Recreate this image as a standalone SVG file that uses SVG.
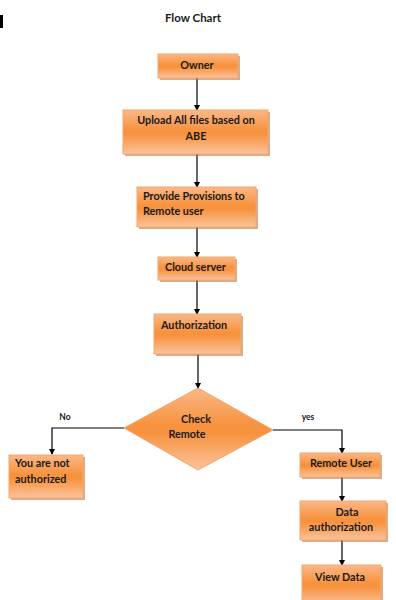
<svg xmlns="http://www.w3.org/2000/svg" width="396" height="600" viewBox="0 0 396 600">
<style>
.box{fill:url(#og);stroke:#f5a66a;stroke-width:1}
.shadow{fill:#b86a30;opacity:0.55}
.t{font-family:Lato,"Liberation Sans",sans-serif;font-weight:bold;font-size:10.8px;fill:#1a1a1a}
.c{text-anchor:middle}
.lbl{font-family:Lato,"Liberation Sans",sans-serif;font-weight:bold;font-size:8.5px;fill:#1a1a1a}
.ln{fill:none;stroke:#000;stroke-width:1.2}
</style>
<defs>
<linearGradient id="og" x1="0" y1="0" x2="0" y2="1">
<stop offset="0" stop-color="#f9b889"/>
<stop offset="0.45" stop-color="#f7933f"/>
<stop offset="0.55" stop-color="#f7933f"/>
<stop offset="1" stop-color="#fbc39c"/>
</linearGradient>
<marker id="ah" markerWidth="6" markerHeight="6" refX="5" refY="3" orient="auto" markerUnits="userSpaceOnUse">
<path d="M0,0 L6,3 L0,6 Z" fill="#000"/>
</marker>
</defs>
<rect width="396" height="600" fill="#fff"/>
<rect x="0" y="15" width="3" height="13" fill="#000"/>
<text x="193" y="22" class="t c" style="font-size:11.5px">Flow Chart</text>

<g id="connectors">
<line class="ln" x1="197" y1="78" x2="197" y2="110" marker-end="url(#ah)"/>
<line class="ln" x1="197" y1="154" x2="197" y2="187" marker-end="url(#ah)"/>
<line class="ln" x1="197" y1="227" x2="197" y2="257" marker-end="url(#ah)"/>
<line class="ln" x1="197" y1="280" x2="197" y2="314" marker-end="url(#ah)"/>
<line class="ln" x1="198" y1="354" x2="198" y2="388" marker-end="url(#ah)"/>
<polyline class="ln" points="124,428 52,428 52,454" marker-end="url(#ah)"/>
<polyline class="ln" points="273,430 342,430 342,453" marker-end="url(#ah)"/>
<line class="ln" x1="342" y1="477" x2="342" y2="501" marker-end="url(#ah)"/>
<line class="ln" x1="342" y1="540" x2="342" y2="565" marker-end="url(#ah)"/>
<text x="65" y="420" class="lbl c">No</text>
<text x="308" y="420" class="lbl c">yes</text>
</g>

<g id="owner">
<rect class="shadow" x="160" y="56" width="80" height="24"/>
<rect class="box" x="158" y="54" width="80" height="24"/>
<text x="197" y="69" class="t c">Owner</text>
</g>

<g id="upload">
<rect class="shadow" x="125" y="112" width="145" height="44"/>
<rect class="box" x="123" y="110" width="145" height="44"/>
<text x="196" y="124" class="t c">Upload All files based on</text>
<text x="196" y="140" class="t c">ABE</text>
</g>

<g id="provide">
<rect class="shadow" x="139" y="189" width="119" height="40"/>
<rect class="box" x="137" y="187" width="119" height="40"/>
<text x="143" y="200" class="t">Provide Provisions to</text>
<text x="143" y="215" class="t">Remote user</text>
</g>

<g id="cloud">
<rect class="shadow" x="160" y="259" width="77" height="23"/>
<rect class="box" x="158" y="257" width="77" height="23"/>
<text x="165" y="271" class="t">Cloud server</text>
</g>

<g id="authorization">
<rect class="shadow" x="156" y="316" width="87" height="40"/>
<rect class="box" x="154" y="314" width="87" height="40"/>
<text x="161" y="329" class="t">Authorization</text>
</g>

<g id="check">
<polygon class="box" points="198,388 273,430 198,470 124,428"/>
<text x="196" y="423" class="t c">Check</text>
<text x="187" y="438" class="t c">Remote</text>
</g>

<g id="not-authorized">
<rect class="shadow" x="11" y="457" width="74" height="43"/>
<rect class="box" x="9" y="455" width="74" height="43"/>
<text x="15" y="467" class="t">You are not</text>
<text x="15" y="483" class="t">authorized</text>
</g>

<g id="remote-user">
<rect class="shadow" x="302" y="455" width="80" height="24"/>
<rect class="box" x="300" y="453" width="80" height="24"/>
<text x="341" y="467" class="t c">Remote User</text>
</g>

<g id="data-auth">
<rect class="shadow" x="302" y="503" width="86" height="39"/>
<rect class="box" x="300" y="501" width="86" height="39"/>
<text x="347" y="516" class="t c">Data</text>
<text x="341" y="531" class="t c">authorization</text>
</g>

<g id="view-data">
<rect class="shadow" x="304" y="567" width="79" height="40"/>
<rect class="box" x="302" y="565" width="79" height="40"/>
<text x="340" y="581" class="t c">View Data</text>
</g>
</svg>
